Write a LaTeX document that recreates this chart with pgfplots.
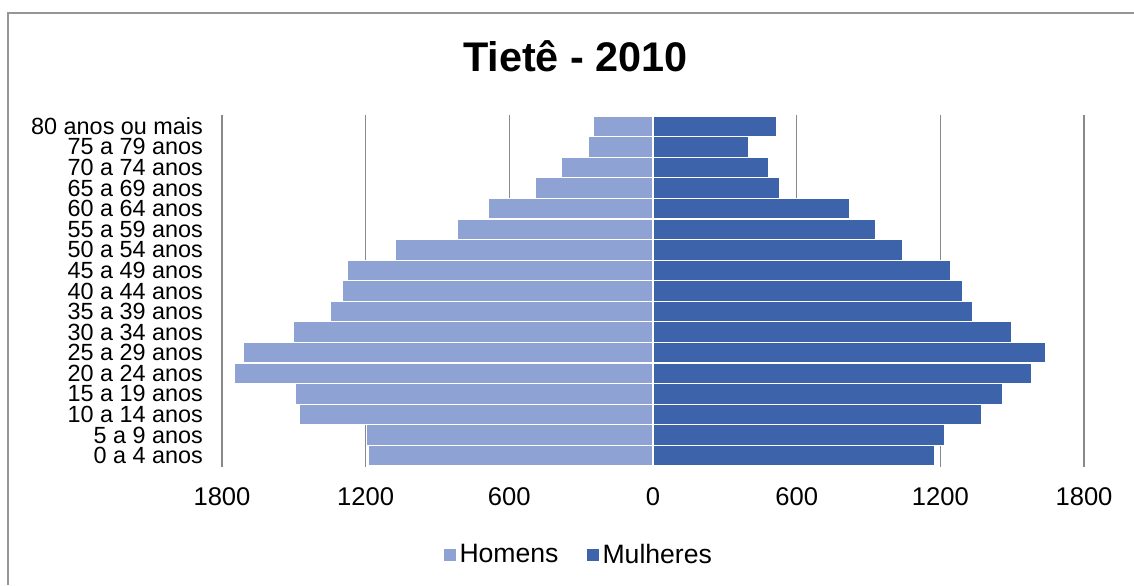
\documentclass[border=0pt]{standalone}
\usepackage{pgfplots}
\pgfplotsset{compat=1.18}
\usepackage{fontspec}
\setmainfont{Liberation Sans}
\definecolor{hom}{RGB}{143,162,212}
\definecolor{mul}{RGB}{61,100,171}
\definecolor{gridc}{RGB}{137,137,137}
\definecolor{framec}{RGB}{150,150,150}
\begin{document}
\begin{tikzpicture}
\useasboundingbox (0,0) rectangle (567pt,292.5pt);
\fill[white] (0,0) rectangle (567pt,292.5pt);
\draw[framec, line width=0.6pt] (4pt,0) -- (4pt,286pt) -- (567pt,286pt);
\begin{axis}[
  at={(111pt,59pt)}, anchor=south west,
  scale only axis, width=431pt, height=176pt,
  xbar, bar width=1,
  xmin=-1800, xmax=1800, ymin=-0.55, ymax=16.55,
  xtick={-1800,-1200,-600,0,600,1200,1800},
  xticklabels={1800,1200,600,0,600,1200,1800},
  ytick={0,...,16},
  yticklabels={0 a 4 anos,5 a 9 anos,10 a 14 anos,15 a 19 anos,20 a 24 anos,25 a 29 anos,30 a 34 anos,35 a 39 anos,40 a 44 anos,45 a 49 anos,50 a 54 anos,55 a 59 anos,60 a 64 anos,65 a 69 anos,70 a 74 anos,75 a 79 anos,80 anos ou mais},
  /pgf/number format/assume math mode=true,
  axis line style={draw=none}, major tick length=0pt,
  xmajorgrids, grid style={gridc, line width=0.6pt},
  xticklabel style={font=\fontsize{12.8}{15}\selectfont, yshift=-7pt},
  yticklabel style={font=\fontsize{11.7}{13}\selectfont, xshift=-6pt, inner ysep=0pt},
  title={Tietê - 2010},
  title style={at={(0.41,1.09)}, anchor=base, font=\bfseries\fontsize{20.7}{24}\selectfont},
  legend style={at={(0.415,-0.25)}, anchor=center, draw=none, fill=none,
    legend columns=2, font=\fontsize{13.3}{15}\selectfont,
    /tikz/every even column/.append style={column sep=12pt}},
  legend image code/.code={\fill[#1,draw=none] (0pt,-3pt) rectangle (6pt,3pt);},
]
\addplot+[bar shift=0pt, fill=hom, draw=white, line width=0.6pt] coordinates {
(-1187,0) (-1195,1) (-1475,2) (-1492,3) (-1747,4) (-1709,5) (-1500,6) (-1346,7) (-1296,8) (-1275,9) (-1074,10) (-815,11) (-686,12) (-490,13) (-381,14) (-269,15) (-248,16)};
\addplot+[bar shift=0pt, fill=mul, draw=white, line width=0.6pt] coordinates {
(1176,0) (1218,1) (1372,2) (1460,3) (1581,4) (1640,5) (1498,6) (1335,7) (1293,8) (1243,9) (1042,10) (930,11) (821,12) (529,13) (483,14) (400,15) (516,16)};
\legend{Homens,Mulheres}
\end{axis}
\end{tikzpicture}
\end{document}
